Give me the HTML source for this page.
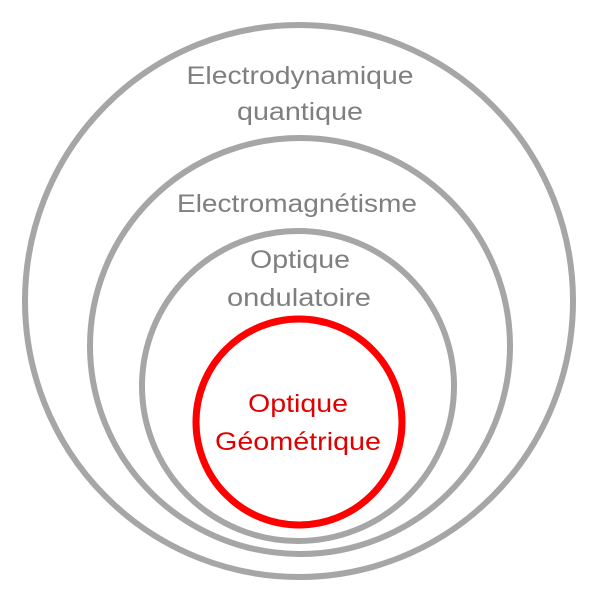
<!DOCTYPE html>
<html><head><meta charset="utf-8"><style>
html,body{margin:0;padding:0;background:#fff;}
svg{display:block;}
text{font-family:"Liberation Sans",sans-serif;font-size:25px;text-anchor:middle;}
</style></head><body>
<svg width="600" height="594" viewBox="0 0 600 594">
<g fill="none" stroke="#a6a6a6" stroke-width="6">
<ellipse cx="299" cy="301" rx="274" ry="276"/>
<ellipse cx="300" cy="346" rx="210" ry="208"/>
<ellipse cx="298" cy="386" rx="156" ry="155"/>
</g>
<circle cx="299" cy="422" r="103" fill="none" stroke="#ff0000" stroke-width="7"/>
<g fill="#7f7f7f">
<text x="300" y="84" textLength="227" lengthAdjust="spacingAndGlyphs">Electrodynamique</text>
<text x="300" y="120" textLength="126" lengthAdjust="spacingAndGlyphs">quantique</text>
<text x="297" y="212" textLength="240" lengthAdjust="spacingAndGlyphs">Electromagnétisme</text>
<text x="300" y="268" textLength="100" lengthAdjust="spacingAndGlyphs">Optique</text>
<text x="299" y="306" textLength="144" lengthAdjust="spacingAndGlyphs">ondulatoire</text>
</g>
<g fill="#e00000">
<text x="298" y="412" textLength="100" lengthAdjust="spacingAndGlyphs">Optique</text>
<text x="298" y="450" textLength="166" lengthAdjust="spacingAndGlyphs">Géométrique</text>
</g>
</svg>
</body></html>
